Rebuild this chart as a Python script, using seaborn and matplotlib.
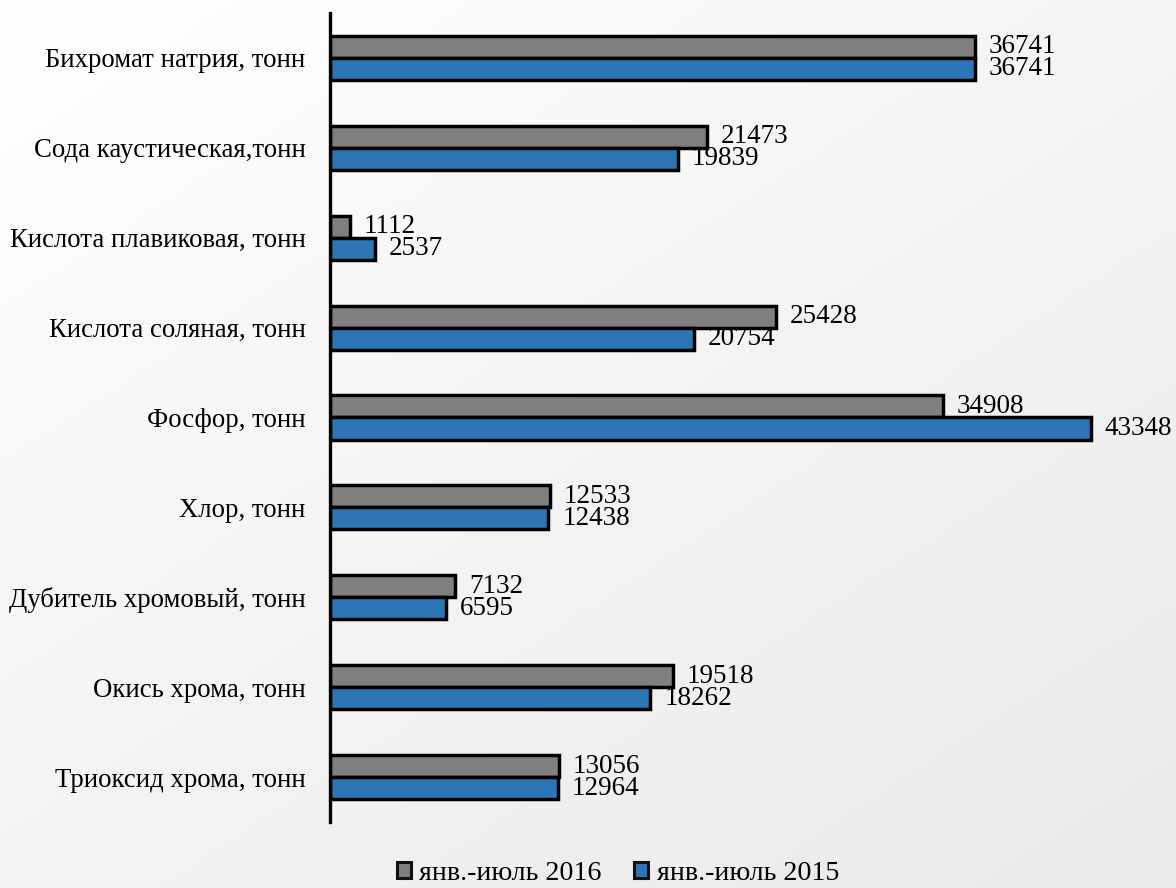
import numpy as np
import pandas as pd
import matplotlib
matplotlib.use("Agg")
import matplotlib.pyplot as plt
import seaborn as sns
from matplotlib.patches import Patch

categories = [
    "Бихромат натрия, тонн",
    "Сода каустическая,тонн",
    "Кислота плавиковая, тонн",
    "Кислота соляная, тонн",
    "Фосфор, тонн",
    "Хлор, тонн",
    "Дубитель хромовый, тонн",
    "Окись хрома, тонн",
    "Триоксид хрома, тонн",
]
values_2016 = [36741, 21473, 1112, 25428, 34908, 12533, 7132, 19518, 13056]
values_2015 = [36741, 19839, 2537, 20754, 43348, 12438, 6595, 18262, 12964]
series_names = ["янв.-июль 2016", "янв.-июль 2015"]
series_colors = ["#7f7f7f", "#2e75b6"]

df = pd.DataFrame({
    "cat": categories * 2,
    "value": values_2016 + values_2015,
    "period": [series_names[0]] * len(categories) + [series_names[1]] * len(categories),
})

sns.set_theme(style="white")
plt.rcParams["font.family"] = ["Liberation Serif", "DejaVu Serif"]
plt.rcParams["text.color"] = "black"
plt.rcParams["ytick.color"] = "black"

W, H = 1176, 888
fig = plt.figure(figsize=(W / 100, H / 100), dpi=100)

# background gradient
bg = fig.add_axes([0, 0, 1, 1], zorder=-10)
yy, xx = np.mgrid[0:1:200j, 0:1:200j]
grad = 1.0 - 0.085 * np.clip((xx * 0.6 + yy * 0.7), 0, 1.3) / 1.3
img = np.dstack([grad, grad, grad])
bg.imshow(img, extent=[0, 1, 0, 1], aspect="auto", origin="upper")
bg.axis("off")

x0 = 330 / W
scale = 0.01755  # px per unit
xmax = 48000
ax = fig.add_axes([x0, 1 - 822 / H, xmax * scale / W, 809 / H])
ax.patch.set_alpha(0)

sns.barplot(
    data=df, y="cat", x="value", hue="period", orient="h",
    hue_order=series_names, order=categories,
    palette=series_colors, saturation=1, width=0.49, gap=0,
    edgecolor="black", linewidth=2.5, ax=ax, legend=False,
)

for cont in ax.containers:
    ax.bar_label(cont, padding=10, fontsize=19.5, color="black")

ax.set_xlim(0, xmax)
ax.set_ylim(8.5, -0.5)
ax.set_xlabel("")
ax.set_ylabel("")
ax.set_xticks([])
ax.tick_params(axis="y", length=0, pad=17.5, labelsize=19.3, labelcolor="black")
for s in ["top", "right", "bottom"]:
    ax.spines[s].set_visible(False)
ax.spines["left"].set_linewidth(2.4)
ax.spines["left"].set_color("black")

handles = [Patch(facecolor=c, edgecolor="#111111", linewidth=2.2) for c in series_colors]
fig.legend(handles, series_names, loc="center", bbox_to_anchor=(0.5255, 0.016),
           ncol=2, frameon=False, fontsize=20.2, handlelength=0.5, handleheight=0.5,
           handletextpad=0.3, columnspacing=1.15, borderpad=0, borderaxespad=0)

fig.savefig("out.png", dpi=100)
